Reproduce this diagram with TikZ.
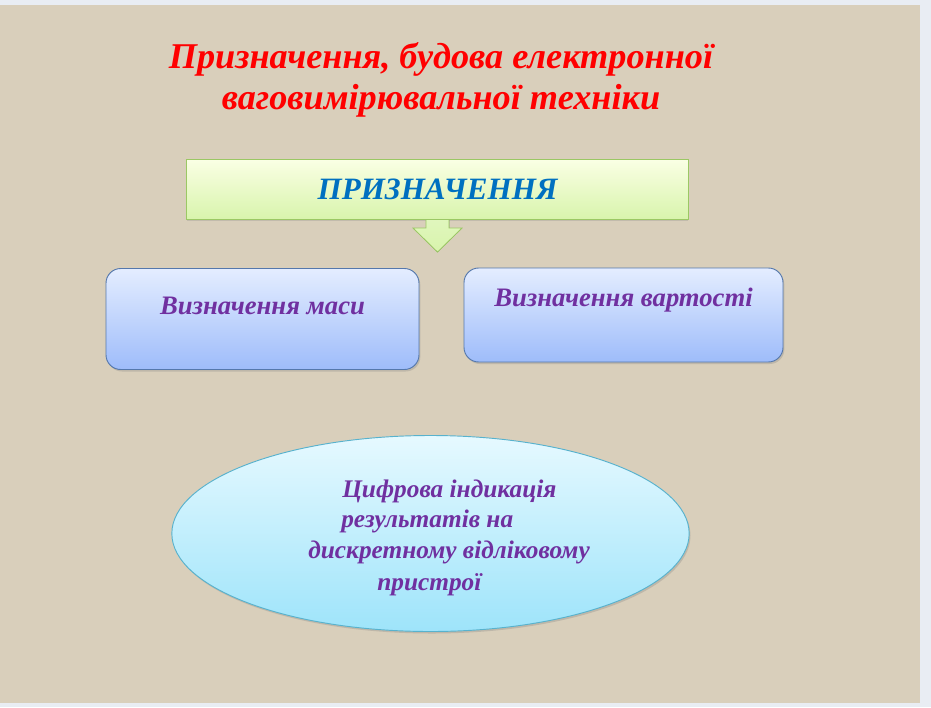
\documentclass[tikz,border=0pt]{standalone}
\usepackage{fontspec}
\setmainfont{Liberation Serif}
\usetikzlibrary{shapes.geometric,shadows}

\definecolor{linen}{RGB}{217,207,187}
\definecolor{slidegray}{RGB}{233,237,243}
\definecolor{titlered}{RGB}{255,0,0}
\definecolor{headblue}{RGB}{0,112,192}
\definecolor{textpurple}{RGB}{112,48,160}
\definecolor{limetop}{RGB}{250,255,228}
\definecolor{limebot}{RGB}{216,244,172}
\definecolor{limeedge}{RGB}{155,200,100}
\definecolor{bluetop}{RGB}{228,237,255}
\definecolor{bluebot}{RGB}{158,188,250}
\definecolor{blueedge}{RGB}{85,120,172}
\definecolor{cyantop}{RGB}{230,249,255}
\definecolor{cyanbot}{RGB}{158,228,250}
\definecolor{cyanedge}{RGB}{88,178,205}

\begin{document}
\begin{tikzpicture}[x=0.75pt, y=-0.75pt,
    boldit/.style={font=\bfseries\itshape},
    purposebox/.style={draw=limeedge, line width=0.8pt, top color=limetop, bottom color=limebot,
      minimum width=376pt, minimum height=45pt, inner sep=0pt,
      drop shadow={shadow xshift=0pt, shadow yshift=-1pt, opacity=0.25}},
    rolebox/.style={draw=blueedge, line width=0.7pt, top color=bluetop, bottom color=bluebot,
      rounded corners=11pt, inner sep=0pt,
      drop shadow={shadow xshift=1pt, shadow yshift=-1.5pt, opacity=0.3}},
    roletext/.style={boldit, text=textpurple, font=\fontsize{20}{24}\selectfont\bfseries\itshape},
    ovalbox/.style={ellipse, draw=cyanedge, line width=0.7pt, top color=cyantop, bottom color=cyanbot,
      minimum width=388pt, minimum height=147pt, inner sep=0pt,
      drop shadow={shadow xshift=1pt, shadow yshift=-1.5pt, opacity=0.3}},
    ovaltext/.style={anchor=base west, inner sep=0pt, text=textpurple,
      font=\fontsize{19}{23}\selectfont\bfseries\itshape}]
    % slide and background
    \useasboundingbox (0,0) rectangle (931,707);
    \fill[slidegray] (0,0) rectangle (931,707);
    \fill[linen] (0,5) rectangle (920,703);
    % title
    \node[text=titlered, align=center, inner sep=0pt,
      font=\fontsize{27.2}{31}\selectfont\bfseries\itshape] (title) at (441,80)
      {Призначення, будова електронної\\ваговимірювальної техніки};
    % purpose header and arrow
    \node[purposebox, text=headblue, font=\fontsize{23.3}{27}\selectfont\bfseries\itshape]
      (purpose) at (437.5,189.5) {ПРИЗНАЧЕННЯ};
    \filldraw[draw=limeedge, line width=0.6pt, top color=limebot!80!white, bottom color=limebot,
      shift={(purpose.south)}]
      (-11.5,0) -- (-11.5,8) -- (-24.5,8) -- (0,32) -- (24.5,8) -- (11.5,8) -- (11.5,0);
    % two roles
    \node[rolebox, minimum width=234.75pt, minimum height=75.75pt] (mass) at (262.5,319) {};
    \node[roletext] (massText) at ([yshift=10pt]mass.center) {Визначення маси};
    \node[rolebox, minimum width=239.25pt, minimum height=70.5pt] (cost) at (623.5,315) {};
    \node[roletext] (costText) at ([yshift=11pt]cost.center) {Визначення вартості};
    % digital indication
    \node[ovalbox] (display) at (430.5,533.5) {};
    \node[ovaltext] (line1) at (342,497) {Цифрова індикація};
    \node[ovaltext] (line2) at (341,527) {результатів на};
    \node[ovaltext] (line3) at (308,558) {дискретному відліковому};
    \node[ovaltext] (line4) at (377,590) {пристрої};
  \end{tikzpicture}
\end{document}
